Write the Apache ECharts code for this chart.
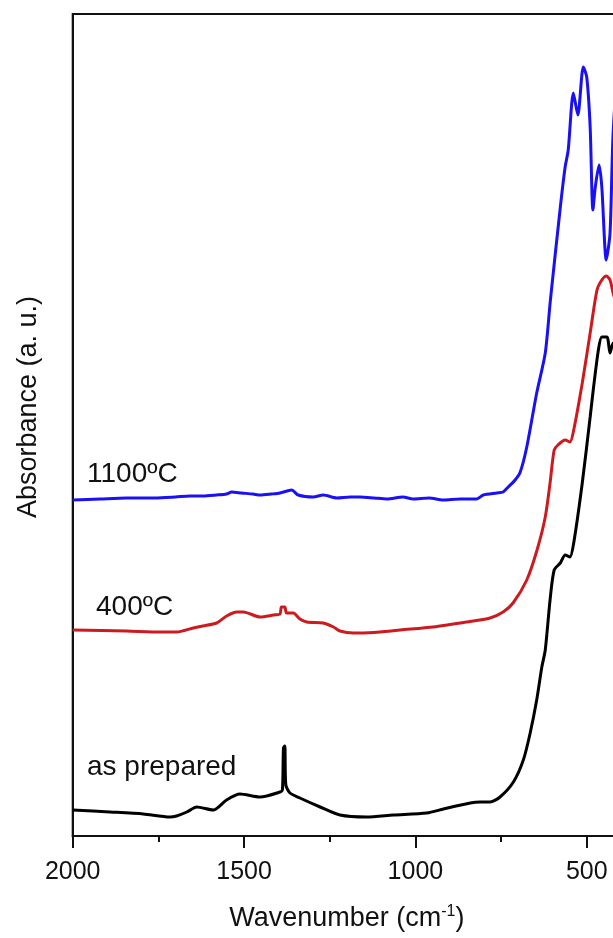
<!DOCTYPE html>
<html><head><meta charset="utf-8">
<script src="https://cdn.jsdelivr.net/npm/echarts@6/dist/echarts.min.js"></script>
<style>html,body{margin:0;padding:0;background:#fff}#c{width:613px;height:938px}</style>
</head><body><div id="c"></div>
<script>
// wavenumber (cm-1) and absorbance (a.u.)
const wn1100 = [2000,1920,1843,1760,1700,1658,1620,1580,1551,1536,1507,1474,1453,1420,1395,1361,1342,1298,1269,1229,1190,1161,1120,1083,1036,1007,960,919,869,821,802,762,744,729,709,694,675,646,621,606,577,563,554,539,526,510,500,490,482,475,464,456,443,432,423,410,400];
const abs1100 = [3.36,3.37,3.38,3.38,3.39,3.40,3.40,3.41,3.42,3.44,3.43,3.42,3.41,3.42,3.43,3.46,3.41,3.39,3.41,3.38,3.39,3.39,3.38,3.37,3.39,3.37,3.38,3.36,3.37,3.37,3.41,3.43,3.44,3.49,3.56,3.64,3.89,4.43,4.83,5.36,6.29,6.69,6.86,7.43,7.21,7.69,7.59,7.09,6.26,6.49,6.71,6.49,5.76,6.03,7.03,7.56,7.36];
const wn400 = [2000,1843,1745,1697,1648,1620,1580,1551,1521,1502,1453,1414,1395,1391,1381,1376,1356,1337,1317,1269,1239,1220,1181,1162,1103,1044,948,850,782,744,715,675,645,621,607,595,584,563,549,538,513,490,470,456,443,432,423,400];
const abs400 = [2.06,2.05,2.04,2.04,2.08,2.10,2.13,2.20,2.24,2.24,2.19,2.21,2.22,2.29,2.29,2.23,2.23,2.17,2.14,2.13,2.09,2.05,2.03,2.03,2.04,2.06,2.09,2.14,2.18,2.24,2.33,2.56,2.86,3.19,3.53,3.86,3.91,3.96,3.94,4.06,4.53,5.03,5.46,5.56,5.60,5.56,5.43,5.16];
const wnPrep = [2000,1891,1794,1716,1697,1667,1638,1590,1551,1512,1453,1395,1388,1385,1381,1378,1366,1337,1278,1220,1142,1064,967,918,840,811,782,753,714,685,665,646,631,621,607,595,577,563,549,538,513,490,481,466,456,441,432,423,400];
const absPrep = [0.26,0.24,0.22,0.19,0.20,0.24,0.29,0.26,0.36,0.42,0.39,0.44,0.46,0.88,0.90,0.51,0.43,0.38,0.29,0.21,0.19,0.21,0.23,0.27,0.33,0.34,0.34,0.39,0.54,0.76,1.03,1.36,1.69,1.86,2.36,2.66,2.73,2.81,2.79,2.93,3.53,4.19,4.46,4.86,4.99,4.99,4.83,4.93,4.76];
const seriesNames = ['1100ºC','400ºC','as prepared'];
const seriesColors = ['#1a10f5','#cc1a1f','#000000'];
const majorTicks = [500,1000,1500,2000];
const minorTicks = [750,1250,1750];

const pair = (a,b) => a.map((x,i)=>[x,b[i]]);
const sets = [pair(wn1100,abs1100), pair(wn400,abs400), pair(wnPrep,absPrep)];
const FONT = 'Liberation Sans, Arial, sans-serif';
const chart = echarts.init(document.getElementById('c'), null, {renderer:'canvas'});
const xBase = {type:'value', min:400, max:2000, inverse:true, position:'bottom', splitLine:{show:false}};
chart.setOption({
  animation:false,
  backgroundColor:'#fff',
  grid:{left:72.7, top:14, height:822, width:548.3, outerBoundsMode:'none', containLabel:false,
        show:true, borderColor:'#111', borderWidth:2},
  xAxis:[
    Object.assign({}, xBase, {
      name:'Wavenumber (cm{sup|-1})', nameLocation:'middle', nameGap:68,
      nameTextStyle:{fontFamily:FONT, fontSize:27, color:'#111',
        rich:{sup:{fontFamily:FONT, fontSize:16, color:'#111', verticalAlign:'top', padding:[0,0,14,0]}}},
      axisLine:{show:true, lineStyle:{color:'#111', width:2}},
      axisTick:{show:true, customValues:majorTicks, length:12, lineStyle:{color:'#111', width:2}},
      axisLabel:{customValues:majorTicks, margin:24, fontFamily:FONT, fontSize:25, color:'#111', formatter:v=>String(v)}
    }),
    Object.assign({}, xBase, {
      axisLine:{show:false},
      axisTick:{show:true, customValues:minorTicks, length:6, lineStyle:{color:'#111', width:2}},
      axisLabel:{show:false}
    })
  ],
  yAxis:{type:'value', min:0, max:8.22, axisLine:{show:true, lineStyle:{color:'#111', width:2}},
    axisTick:{show:false}, axisLabel:{show:false}, splitLine:{show:false}},
  graphic:[
    {type:'text', x:29, y:407, rotation:Math.PI/2, style:{text:'Absorbance (a. u.)', font:'27px '+FONT, fill:'#111', align:'center', verticalAlign:'middle'}},
    {type:'text', x:87, y:474, style:{text:seriesNames[0], font:'28px '+FONT, fill:'#111', align:'left', verticalAlign:'middle'}},
    {type:'text', x:96, y:607, style:{text:seriesNames[1], font:'28px '+FONT, fill:'#111', align:'left', verticalAlign:'middle'}},
    {type:'text', x:87, y:767, style:{text:seriesNames[2], font:'28px '+FONT, fill:'#111', align:'left', verticalAlign:'middle'}}
  ],
  series: sets.map((d,i)=>({
    type:'line', name:seriesNames[i], data:d, xAxisIndex:0, showSymbol:false, smooth:0.25,
    lineStyle:{color:seriesColors[i], width:3}, clip:true
  }))
});
</script></body></html>
